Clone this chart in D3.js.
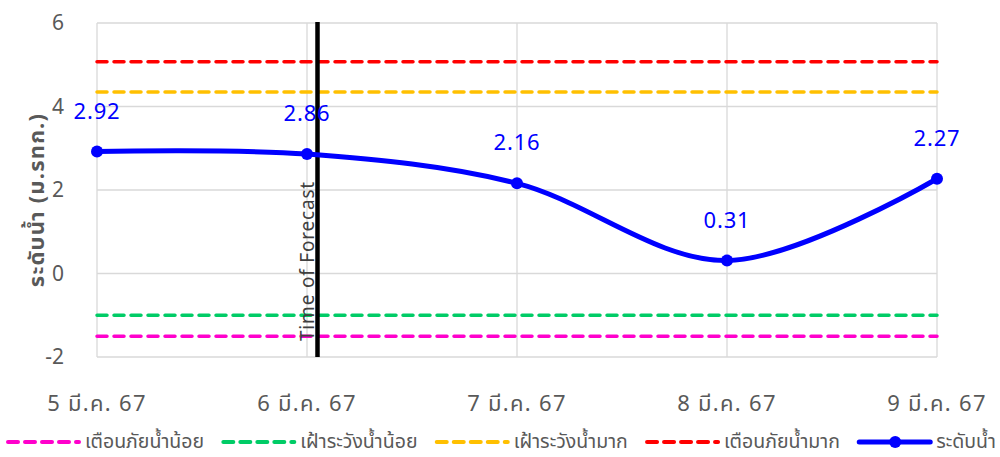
<!DOCTYPE html>
<html><head><meta charset="utf-8">
<script src="https://cdn.jsdelivr.net/npm/d3@7"></script>
<style>body{margin:0;background:#fff}svg{display:block}text{font-family:"Noto Sans Thai","Tahoma","Leelawadee UI","Noto Sans","DejaVu Sans",sans-serif}</style>
</head><body><svg id="c" width="1000" height="457"></svg>
<script>
const categories = ["5 มี.ค. 67","6 มี.ค. 67","7 มี.ค. 67","8 มี.ค. 67","9 มี.ค. 67"];
const waterLevel = [2.92, 2.86, 2.16, 0.31, 2.27];
const lowDanger = -1.5;   // เตือนภัยน้ำน้อย
const lowWatch = -1.0;    // เฝ้าระวังน้ำน้อย
const highWatch = 4.35;   // เฝ้าระวังน้ำมาก
const highDanger = 5.07;  // เตือนภัยน้ำมาก
const yTicks = [-2, 0, 2, 4, 6];
const forecastIndex = 1.05;
const legendLabels = ["เตือนภัยน้ำน้อย","เฝ้าระวังน้ำน้อย","เฝ้าระวังน้ำมาก","เตือนภัยน้ำมาก","ระดับน้ำ"];
const yTitle = "ระดับน้ำ (ม.รทก.)";

const svg = d3.select("#c");
const L = 97, R = 937, T = 23, B = 357;
const x = d3.scaleLinear().domain([0, categories.length - 1]).range([L, R]);
const y = d3.scaleLinear().domain([-2, 6]).range([B, T]);
const grid = "#d9d9d9", gray = "#595959";

// horizontal grid
svg.append("g").selectAll("line").data(yTicks).join("line")
  .attr("x1", L).attr("x2", R).attr("y1", d => y(d)).attr("y2", d => y(d))
  .attr("stroke", grid).attr("stroke-width", 1.3);
// vertical grid
svg.append("g").selectAll("line").data(categories).join("line")
  .attr("x1", (d,i) => x(i)).attr("x2", (d,i) => x(i)).attr("y1", T).attr("y2", B)
  .attr("stroke", grid).attr("stroke-width", 1.3);

// y tick labels
svg.append("g").selectAll("text").data(yTicks).join("text")
  .attr("x", 64).attr("y", d => y(d) + 7).attr("text-anchor", "end")
  .attr("font-size", 21).attr("fill", gray).text(d => d);
// x tick labels
svg.append("g").selectAll("text").data(categories).join("text")
  .attr("x", (d,i) => x(i)).attr("y", 411).attr("text-anchor", "middle")
  .attr("font-size", 22).attr("letter-spacing", 1.3).attr("fill", gray).text(d => d);
// y title
svg.append("text").attr("transform", `translate(44,200) rotate(-90)`)
  .attr("text-anchor", "middle").attr("font-size", 22).attr("font-weight", "bold")
  .attr("letter-spacing", 1.2).attr("fill", gray).text(yTitle);

const thresholds = [
  {v: lowDanger, c: "#ff00cc"},
  {v: lowWatch, c: "#00cc66"},
  {v: highWatch, c: "#ffc000"},
  {v: highDanger, c: "#ff0000"}
];
svg.append("g").selectAll("line").data(thresholds).join("line")
  .attr("x1", L).attr("x2", R).attr("y1", d => y(d.v)).attr("y2", d => y(d.v))
  .attr("stroke", d => d.c).attr("stroke-width", 3.5)
  .attr("stroke-dasharray", "10,7").attr("stroke-linecap", "round");

// forecast line
const fx = x(forecastIndex);
svg.append("line").attr("x1", fx).attr("x2", fx).attr("y1", T - 1).attr("y2", B)
  .attr("stroke", "#000").attr("stroke-width", 4.5);
svg.append("text").attr("transform", `translate(${fx - 4},${B - 16}) rotate(-90)`)
  .attr("font-size", 19).attr("letter-spacing", 0.8).attr("fill", "#404040").text("Time of Forecast");

// water level
const line = d3.line().x((d,i) => x(i)).y(d => y(d)).curve(d3.curveCatmullRom.alpha(0));
svg.append("path").datum(waterLevel).attr("d", line).attr("fill", "none")
  .attr("stroke", "#0000ff").attr("stroke-width", 5);
svg.append("g").selectAll("circle").data(waterLevel).join("circle")
  .attr("cx", (d,i) => x(i)).attr("cy", d => y(d)).attr("r", 6).attr("fill", "#0000ff");
svg.append("g").selectAll("text").data(waterLevel).join("text")
  .attr("x", (d,i) => x(i)).attr("y", d => y(d) - 33).attr("text-anchor", "middle")
  .attr("font-size", 22).attr("letter-spacing", 0.8).attr("fill", "#0000ff").text(d => d.toFixed(2));

// legend
const legendColors = ["#ff00cc","#00cc66","#ffc000","#ff0000","#0000ff"];
const lg = svg.append("g");
const ly = 442;
const items = legendLabels.map((lab, i) => {
  const g = lg.append("g");
  const t = g.append("text").attr("y", ly + 6).attr("font-size", 19.5)
    .attr("fill", gray).text(lab);
  return {g, t, w: t.node().getComputedTextLength(), i};
});
const total = items.reduce((s, it) => s + 77 + it.w, 0);
const gap = (996 - 8 - total) / 4;
let cx0 = 8;
items.forEach(({g, t, w, i}) => {
  if (i < 4) {
    g.append("line").attr("x1", cx0).attr("x2", cx0 + 71).attr("y1", ly).attr("y2", ly)
      .attr("stroke", legendColors[i]).attr("stroke-width", 4)
      .attr("stroke-dasharray", "10,7").attr("stroke-linecap", "round");
  } else {
    g.append("line").attr("x1", cx0).attr("x2", cx0 + 71).attr("y1", ly).attr("y2", ly)
      .attr("stroke", legendColors[i]).attr("stroke-width", 5).attr("stroke-linecap", "round");
    g.append("circle").attr("cx", cx0 + 36).attr("cy", ly).attr("r", 6).attr("fill", legendColors[i]);
  }
  t.attr("x", cx0 + 77);
  cx0 = cx0 + 77 + w + gap;
});
</script></body></html>
